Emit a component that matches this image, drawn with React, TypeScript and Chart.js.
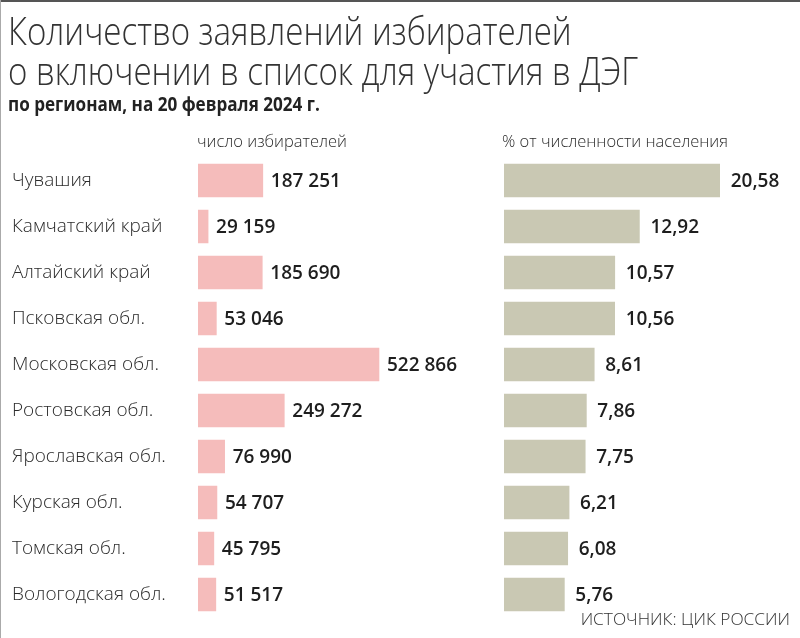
import React, { useEffect, useRef } from "react";
import { Chart, registerables } from "chart.js";

Chart.register(...registerables);

const regions = [
  "Чувашия",
  "Камчатский край",
  "Алтайский край",
  "Псковская обл.",
  "Московская обл.",
  "Ростовская обл.",
  "Ярославская обл.",
  "Курская обл.",
  "Томская обл.",
  "Вологодская обл.",
];
const voters = [187251, 29159, 185690, 53046, 522866, 249272, 76990, 54707, 45795, 51517];
const sharePct = [20.58, 12.92, 10.57, 10.56, 8.61, 7.86, 7.75, 6.21, 6.08, 5.76];
const votersLabels = ["187 251", "29 159", "185 690", "53 046", "522 866", "249 272", "76 990", "54 707", "45 795", "51 517"];
const shareLabels = ["20,58", "12,92", "10,57", "10,56", "8,61", "7,86", "7,75", "6,21", "6,08", "5,76"];

const TEXT = "#2b2b2b";
const VALUE_FONT = "'Open Sans', 'Noto Sans', sans-serif";

function valueLabelPlugin(labels: string[], offset: number) {
  return {
    id: "valueLabels",
    afterDatasetsDraw(chart: any) {
      const ctx = chart.ctx;
      const meta = chart.getDatasetMeta(0);
      ctx.save();
      ctx.font = `600 19px ${VALUE_FONT}`;
      ctx.fillStyle = "#1e1e1e";
      ctx.textAlign = "left";
      ctx.textBaseline = "middle";
      meta.data.forEach((bar: any, i: number) => {
        ctx.fillText(labels[i], bar.x + offset, bar.y + 1);
      });
      ctx.restore();
    },
  };
}

function BarChart(props: {
  values: number[];
  labels: string[];
  color: string;
  max: number;
  showCategories: boolean;
  padLeft: number;
  padRight: number;
  axisWidth: number;
  offset: number;
  width: number;
}) {
  const ref = useRef<HTMLCanvasElement | null>(null);
  useEffect(() => {
    if (!ref.current) return;
    const chart = new Chart(ref.current, {
      type: "bar",
      data: {
        labels: regions,
        datasets: [
          {
            data: props.values,
            backgroundColor: props.color,
            borderWidth: 0,
            barThickness: 33,
            categoryPercentage: 1,
            barPercentage: 1,
          },
        ],
      },
      options: {
        indexAxis: "y",
        animation: false,
        responsive: false,
        maintainAspectRatio: false,
        layout: {
          padding: { top: 157.5, bottom: 20.5, left: props.padLeft, right: props.padRight },
        },
        plugins: { legend: { display: false }, tooltip: { enabled: false }, title: { display: false } },
        scales: {
          x: { display: false, min: 0, max: props.max },
          y: {
            display: props.showCategories,
            grid: { display: false },
            border: { display: false },
            ticks: {
              crossAlign: "far",
              color: TEXT,
              padding: 0,
              font: { family: "'Open Sans', 'Noto Sans', sans-serif", size: 19, weight: 300 as any },
            },
            afterFit: (scale: any) => {
              scale.width = props.axisWidth;
            },
          },
        },
      },
      plugins: [valueLabelPlugin(props.labels, props.offset)],
    });
    return () => chart.destroy();
  }, []);
  return <canvas ref={ref} width={props.width} height={638} style={{ display: "block" }} />;
}

export default function App() {
  return (
    <div
      style={{
        position: "fixed",
        left: 0,
        top: 0,
        width: 800,
        height: 638,
        background: "#fff",
        overflow: "hidden",
        fontFamily: "'Open Sans', 'Noto Sans', sans-serif",
        color: TEXT,
      }}
    >
      <div style={{ position: "absolute", left: 0, top: 0, width: 800, height: 2, background: "#555" }} />
      <div style={{ position: "absolute", left: 0, top: 0, width: 1, height: 638, background: "#aaa" }} />
      <div style={{ position: "absolute", left: 0, top: 0, width: 490, height: 638 }}>
        <BarChart
          values={voters}
          labels={votersLabels}
          color="#f5bcbb"
          max={750000}
          showCategories={true}
          padLeft={12}
          padRight={32.4}
          axisWidth={186}
          offset={8}
          width={490}
        />
      </div>
      <div style={{ position: "absolute", left: 490, top: 0, width: 310, height: 638 }}>
        <BarChart
          values={sharePct}
          labels={shareLabels}
          color="#c9c8b3"
          max={25}
          showCategories={false}
          padLeft={14}
          padRight={34}
          axisWidth={0}
          offset={11}
          width={310}
        />
      </div>
      <div
        style={{
          position: "absolute",
          left: 8,
          top: 10,
          fontSize: 38,
          fontWeight: 300,
          lineHeight: "40px",
          whiteSpace: "nowrap",
          transform: "scaleX(0.87)",
          transformOrigin: "left top",
          color: "#333",
        }}
      >
        Количество заявлений избирателей
        <br />о включении в список для участия в ДЭГ
      </div>
      <div
        style={{
          position: "absolute",
          left: 8,
          top: 91,
          fontSize: 19,
          fontWeight: 700,
          whiteSpace: "nowrap",
          transform: "scaleX(0.9)",
          transformOrigin: "left top",
          color: "#222",
        }}
      >
        по регионам, на 20 февраля 2024 г.
      </div>
      <div style={{ position: "absolute", left: 197, top: 129, fontSize: 16.5, fontWeight: 300, whiteSpace: "nowrap" }}>
        число избирателей
      </div>
      <div style={{ position: "absolute", left: 502, top: 129, fontSize: 16.5, fontWeight: 300, whiteSpace: "nowrap" }}>
        % от численности населения
      </div>
      <div
        style={{
          position: "absolute",
          right: 10,
          top: 607,
          fontSize: 17.3,
          fontWeight: 300,
          whiteSpace: "nowrap",
          color: "#333",
        }}
      >
        ИСТОЧНИК: ЦИК РОССИИ
      </div>
    </div>
  );
}
